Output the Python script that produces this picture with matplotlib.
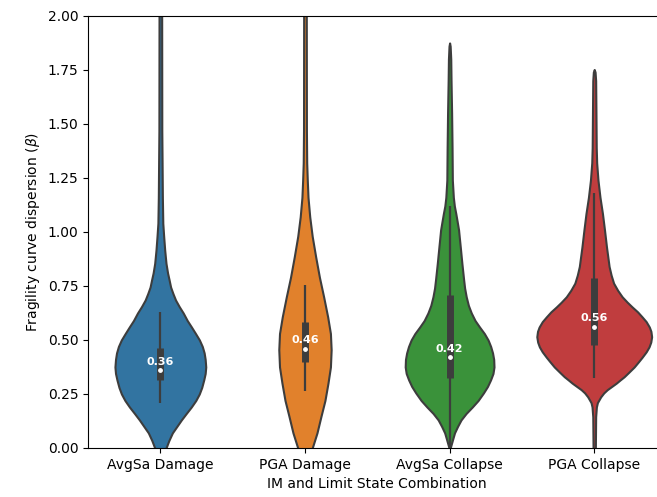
import matplotlib
matplotlib.use("Agg")
import matplotlib.pyplot as plt
import numpy as np

categories = ["AvgSa Damage", "PGA Damage", "AvgSa Collapse", "PGA Collapse"]
colors = ["#3274a1", "#e1812c", "#3a923a", "#c03d3e"]

# violin outlines: beta value -> half width (x units)
avgsa_dmg_y = [-0.10, 0.00, 0.035, 0.07, 0.10, 0.13, 0.16, 0.19, 0.22, 0.25, 0.28, 0.315,
               0.345, 0.375, 0.41, 0.44, 0.47, 0.50, 0.53, 0.56, 0.59, 0.625, 0.655, 0.685,
               0.715, 0.745, 0.78, 0.81, 0.855, 0.917, 0.98, 1.04, 1.16, 1.32, 1.47, 2.10]
avgsa_dmg_w = [0.021, 0.039, 0.059, 0.083, 0.114, 0.145, 0.179, 0.214, 0.245, 0.269, 0.286, 0.300,
               0.310, 0.314, 0.310, 0.303, 0.290, 0.270, 0.243, 0.215, 0.186, 0.158, 0.130, 0.105,
               0.087, 0.071, 0.060, 0.050, 0.039, 0.030, 0.023, 0.017, 0.014, 0.012, 0.010, 0.009]

pga_dmg_y = [-0.10, 0.00, 0.07, 0.145, 0.22, 0.30, 0.375, 0.455, 0.53, 0.607, 0.70, 0.79,
             0.885, 0.98, 1.07, 1.16, 1.24, 1.32, 1.47, 2.10]
pga_dmg_w = [0.034, 0.050, 0.083, 0.110, 0.138, 0.159, 0.176, 0.181, 0.176, 0.157, 0.129, 0.100,
             0.074, 0.050, 0.033, 0.021, 0.016, 0.012, 0.010, 0.009]

avgsa_col_y = [-0.02, 0.00, 0.014, 0.04, 0.07, 0.10, 0.13, 0.16, 0.19, 0.22, 0.255, 0.285,
               0.315, 0.345, 0.375, 0.41, 0.44, 0.47, 0.50, 0.53, 0.56, 0.59, 0.625, 0.66,
               0.70, 0.74, 0.78, 0.855, 0.93, 1.01, 1.05, 1.085, 1.12, 1.16, 1.24, 1.39,
               1.55, 1.70, 1.80, 1.86, 1.875]
avgsa_col_w = [0.000, 0.004, 0.010, 0.021, 0.034, 0.055, 0.079, 0.114, 0.157, 0.197, 0.234, 0.262,
               0.283, 0.300, 0.307, 0.305, 0.297, 0.284, 0.266, 0.240, 0.207, 0.176, 0.150, 0.130,
               0.115, 0.104, 0.097, 0.085, 0.074, 0.062, 0.052, 0.043, 0.033, 0.026, 0.019, 0.017,
               0.014, 0.010, 0.008, 0.004, 0.000]

pga_col_y = [-0.10, 0.00, 0.145, 0.19, 0.21, 0.237, 0.255, 0.27, 0.285, 0.30, 0.315, 0.33,
             0.35, 0.375, 0.40, 0.42, 0.445, 0.468, 0.49, 0.515, 0.54, 0.56, 0.585, 0.607,
             0.63, 0.653, 0.675, 0.70, 0.73, 0.763, 0.80, 0.84, 0.93, 1.01, 1.085, 1.16,
             1.24, 1.32, 1.39, 1.55, 1.70, 1.74, 1.752]
pga_col_w = [0.008, 0.008, 0.010, 0.015, 0.022, 0.045, 0.066, 0.090, 0.121, 0.152, 0.179, 0.207,
             0.238, 0.276, 0.307, 0.331, 0.359, 0.379, 0.391, 0.397, 0.392, 0.381, 0.359, 0.331,
             0.300, 0.262, 0.228, 0.193, 0.162, 0.134, 0.117, 0.103, 0.085, 0.071, 0.057, 0.040,
             0.026, 0.017, 0.014, 0.012, 0.010, 0.006, 0.000]

profiles_y = [avgsa_dmg_y, pga_dmg_y, avgsa_col_y, pga_col_y]
profiles_w = [avgsa_dmg_w, pga_dmg_w, avgsa_col_w, pga_col_w]

# inner box stats
medians = [0.36, 0.46, 0.42, 0.56]
q1 = [0.315, 0.40, 0.323, 0.477]
q3 = [0.463, 0.583, 0.708, 0.787]
whisk_lo = [0.208, 0.265, 0.0, 0.323]
whisk_hi = [0.63, 0.755, 1.12, 1.18]

edge = "#3d3d3d"

fig = plt.figure(figsize=(6.57, 4.97), dpi=100)
ax = fig.add_axes([0.134, 0.0986, 0.8805, 0.8694])

for i in range(len(categories)):
    y = np.array(profiles_y[i])
    w = np.array(profiles_w[i])
    ax.fill_betweenx(y, i - w, i + w, facecolor=colors[i], edgecolor=edge, linewidth=1.5,
                     joinstyle="round", zorder=1)
    ax.plot([i, i], [whisk_lo[i], whisk_hi[i]], color=edge, linewidth=1.6, zorder=2,
            solid_capstyle="butt")
    ax.plot([i, i], [q1[i], q3[i]], color=edge, linewidth=5, zorder=2, solid_capstyle="butt")
    ax.scatter([i], [medians[i]], color="white", s=6, zorder=3)
    ax.text(i, medians[i] + 0.04, f"{medians[i]:.2f}", ha="center", va="center",
            color="white", fontweight="bold", fontsize=8, zorder=4)

ax.set_xlim(-0.5, 3.5)
ax.set_ylim(0, 2)
ax.set_xticks(range(len(categories)))
ax.set_xticklabels(categories)
ax.set_xlabel("IM and Limit State Combination")
ax.set_ylabel(r"Fragility curve dispersion ($\beta$)")

plt.savefig("out.png", dpi=100)
